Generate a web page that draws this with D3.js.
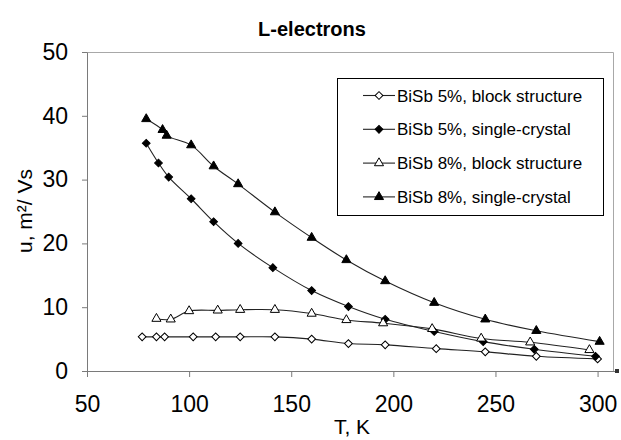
<!DOCTYPE html>
<html>
<head>
<meta charset="utf-8">
<script src="https://cdn.jsdelivr.net/npm/d3@7"></script>
<style>
  body { margin: 0; background: #fff; }
  svg { display: block; font-family: "Liberation Sans", Arial, sans-serif; }
</style>
</head>
<body>
<svg id="chart"></svg>
<script>
// values
var temps5Block = [77, 84, 88, 102, 113, 125, 142, 160, 178, 196, 221, 245, 270, 300];
var u5Block     = [5.35, 5.35, 5.35, 5.35, 5.35, 5.35, 5.35, 5.0, 4.3, 4.1, 3.5, 3.0, 2.3, 1.9];

var temps5Single = [79, 85, 90, 101, 112, 124, 141, 160, 178, 196, 220, 244, 269, 299];
var u5Single     = [35.7, 32.6, 30.4, 27.0, 23.4, 20.0, 16.2, 12.6, 10.1, 8.1, 6.2, 4.6, 3.4, 2.3];

var temps8Block = [84, 91, 100, 114, 125, 142, 160, 177, 195, 219, 243, 267, 296];
var u8Block     = [8.2, 8.1, 9.4, 9.5, 9.6, 9.6, 9.0, 8.0, 7.5, 6.6, 5.1, 4.5, 3.3];

var temps8Single = [79, 87, 89, 101, 112, 124, 142, 160, 177, 196, 220, 245, 270, 301];
var u8Single     = [39.5, 37.8, 36.9, 35.4, 32.1, 29.3, 24.9, 20.9, 17.4, 14.1, 10.7, 8.1, 6.3, 4.6];

var seriesNames = ["BiSb 5%, block structure", "BiSb 5%, single-crystal",
                   "BiSb 8%, block structure", "BiSb 8%, single-crystal"];
var xTicks = [50, 100, 150, 200, 250, 300];
var yTicks = [0, 10, 20, 30, 40, 50];

var width = 621, height = 440;

var svg = d3.select("#chart")
  .attr("width", width)
  .attr("height", height);

svg.append("rect").attr("width", width).attr("height", height).attr("fill", "#fff");

var x = d3.scaleLinear().domain([50, 310]).range([87, 618]);
var y = d3.scaleLinear().domain([0, 50]).range([371, 52]);

// plot area frame (top / right)
svg.append("path")
  .attr("d", "M87,52.5H613.5V371")
  .attr("fill", "none")
  .attr("stroke", "#a8a8a8");

// axes
var xAxis = svg.append("g")
  .attr("transform", "translate(0,371)")
  .call(d3.axisBottom(x).tickValues(xTicks).tickSize(6).tickPadding(19).tickSizeOuter(0));
var yAxis = svg.append("g")
  .attr("transform", "translate(87,0)")
  .call(d3.axisLeft(y).tickValues(yTicks).tickSize(5).tickPadding(14).tickSizeOuter(0));

[xAxis, yAxis].forEach(function (g) {
  g.select(".domain").attr("stroke", "#7a7a7a");
  g.selectAll(".tick line").attr("stroke", "#7a7a7a");
  g.selectAll(".tick text")
    .attr("fill", "#000")
    .style("font-size", "23px")
    .style("font-family", "'Liberation Sans', Arial, sans-serif");
});
// x axis runs on past the frame
xAxis.select(".domain").attr("d", "M87,0.5H618");
svg.append("rect").attr("x", 615).attr("y", 369).attr("width", 4).attr("height", 4).attr("fill", "#333");

// titles
svg.append("text")
  .attr("x", 312).attr("y", 36)
  .attr("text-anchor", "middle")
  .style("font-size", "20px").style("font-weight", "bold")
  .text("L-electrons");

svg.append("text")
  .attr("x", 352).attr("y", 434)
  .attr("text-anchor", "middle")
  .style("font-size", "21px")
  .text("T, K");

svg.append("text")
  .attr("transform", "translate(32,211) rotate(-90)")
  .attr("text-anchor", "middle")
  .style("font-size", "21px")
  .text("u, m\u00b2/ Vs");

// series
var series = [
  { name: seriesNames[0], t: temps5Block, u: u5Block, shape: "diamond", filled: false },
  { name: seriesNames[1], t: temps5Single, u: u5Single, shape: "diamond", filled: true },
  { name: seriesNames[2], t: temps8Block, u: u8Block, shape: "triangle", filled: false },
  { name: seriesNames[3], t: temps8Single, u: u8Single, shape: "triangle", filled: true }
];

var line = d3.line()
  .x(function (d) { return x(d[0]); })
  .y(function (d) { return y(d[1]); })
  .curve(d3.curveCatmullRom.alpha(0.5));

function marker(sel, s) {
  var sym = s.shape == "diamond"
    ? d3.symbol().type(d3.symbolSquare).size(30)
    : d3.symbol().type(d3.symbolTriangle).size(36);
  sel.append("path")
    .attr("d", sym())
    .attr("transform", function (d) {
      var base = "translate(" + d[0] + "," + d[1] + ")";
      return s.shape == "diamond" ? base + " rotate(45)" : base;
    })
    .attr("fill", s.filled ? "#000" : "#fff")
    .attr("stroke", "#000")
    .attr("stroke-width", 1);
}

series.forEach(function (s) {
  var pts = s.t.map(function (t, i) { return [t, s.u[i]]; });
  svg.append("path")
    .datum(pts)
    .attr("d", line)
    .attr("fill", "none")
    .attr("stroke", "#222")
    .attr("stroke-width", 1.1);
});

series.forEach(function (s) {
  var pts = s.t.map(function (t, i) { return [x(t), y(s.u[i])]; });
  svg.append("g").selectAll("path")
    .data(pts)
    .enter()
    .call(function (sel) { marker(sel, s); });
});

// legend
var legend = svg.append("g");
legend.append("rect")
  .attr("x", 337.5).attr("y", 78.5)
  .attr("width", 266).attr("height", 137)
  .attr("fill", "#fff")
  .attr("stroke", "#000");

var rows = legend.selectAll("g.legend")
  .data(series)
  .enter()
  .append("g")
  .attr("class", "legend")
  .attr("transform", function (d, i) { return "translate(0," + (95.5 + i * 33.8) + ")"; });

rows.append("line")
  .attr("x1", 363).attr("x2", 395)
  .attr("stroke", "#222").attr("stroke-width", 1.1);

rows.each(function (s) {
  d3.select(this).selectAll("path").data([[379, 0]]).enter()
    .call(function (sel) { marker(sel, s); });
});

rows.append("text")
  .attr("x", 397).attr("y", 6)
  .style("font-size", "17px")
  .text(function (d) { return d.name; });
</script>
</body>
</html>
